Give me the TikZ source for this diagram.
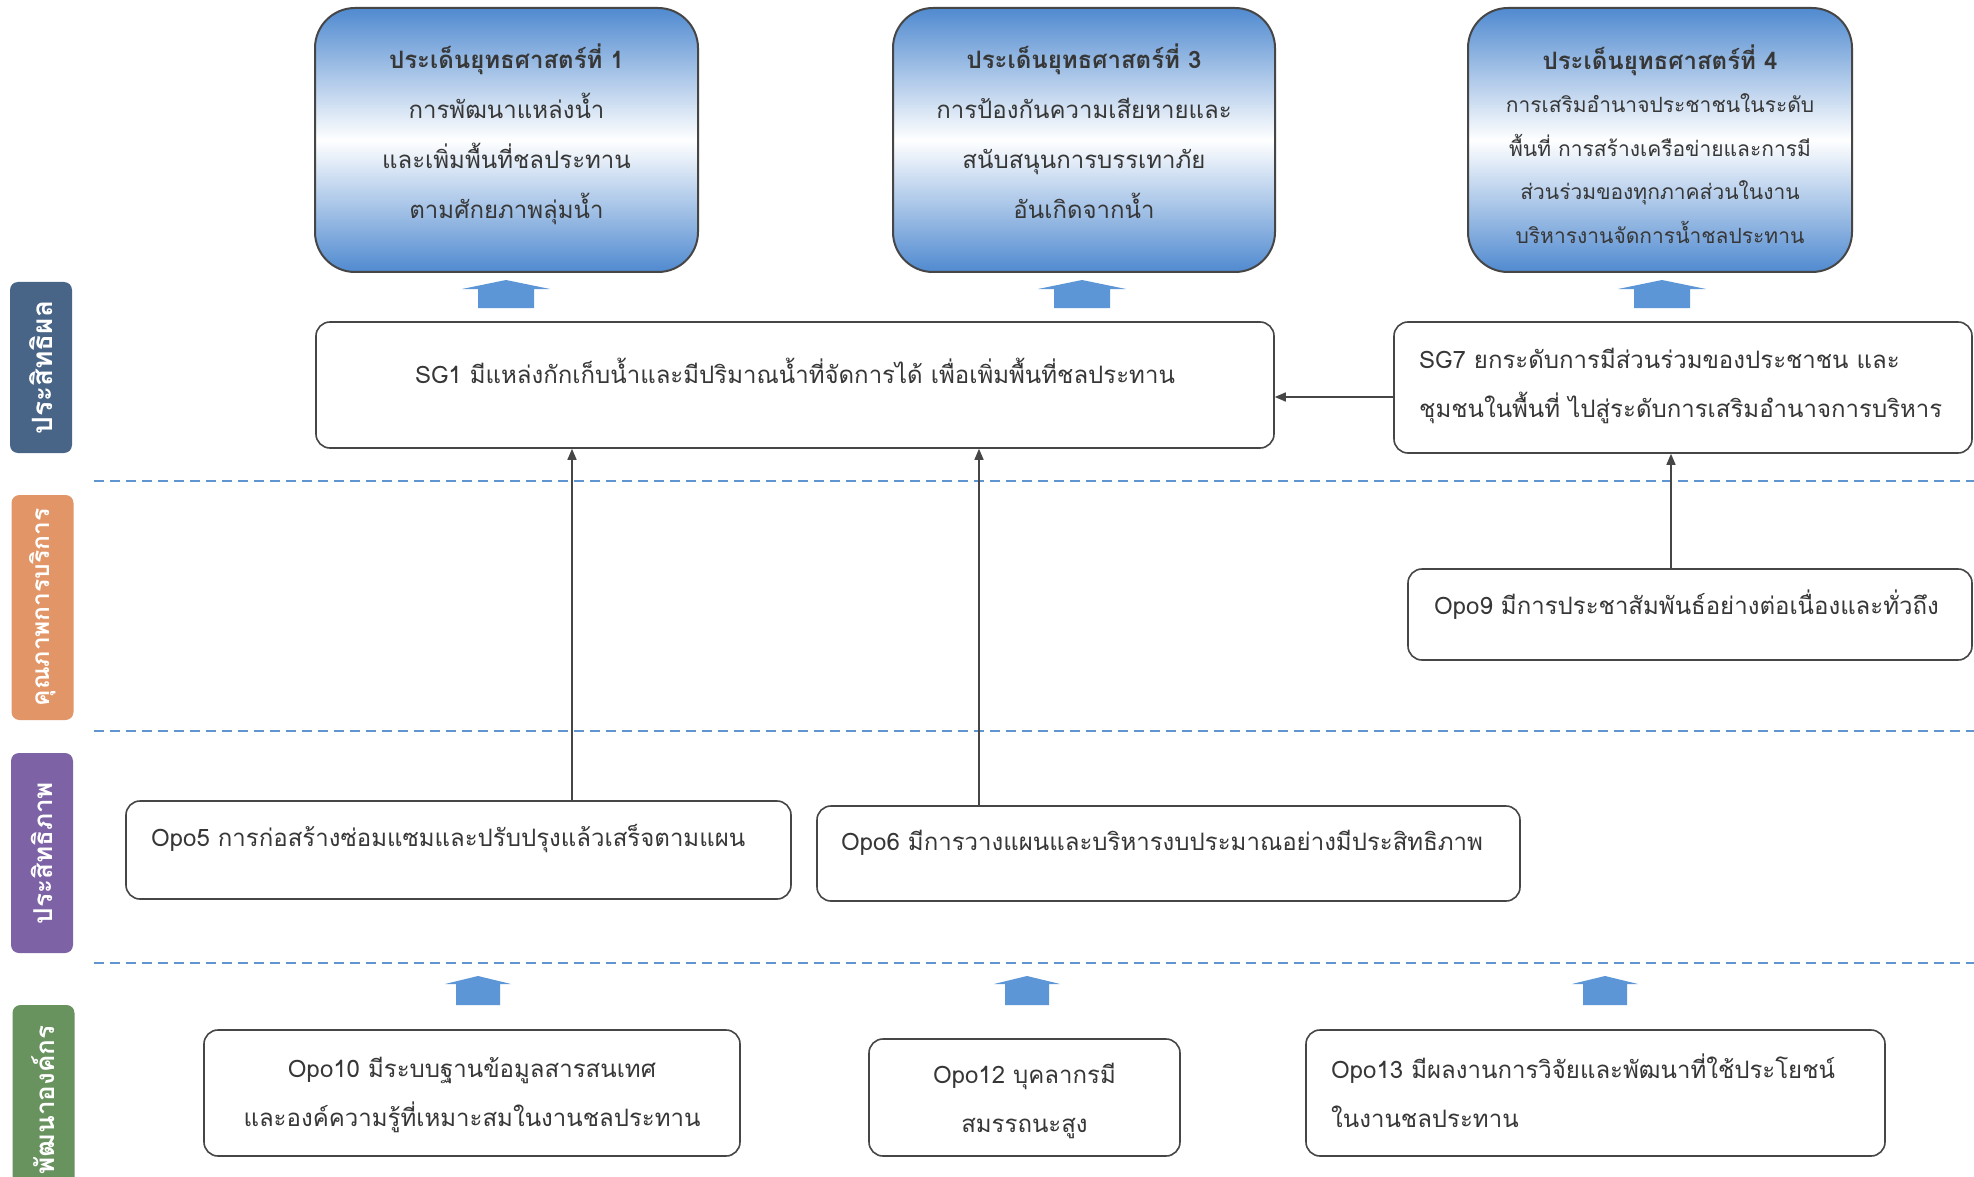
\documentclass[tikz,border=0pt]{standalone}
\usepackage{fontspec}
\setmainfont{Liberation Sans}
\newfontfamily\thai[Script=Thai]{Loma}
\usetikzlibrary{arrows.meta}
\definecolor{txt}{RGB}{55,55,55}
\definecolor{boxblue}{RGB}{80,138,208}
\definecolor{arrblue}{RGB}{92,150,215}
\definecolor{dashblue}{RGB}{95,150,210}
\definecolor{lblue}{RGB}{72,100,135}
\definecolor{lorange}{RGB}{226,150,104}
\definecolor{lpurple}{RGB}{125,98,165}
\definecolor{lgreen}{RGB}{104,146,94}
\definecolor{edge}{RGB}{70,70,70}
\tikzset{
  topbox/.style={draw=edge, line width=2pt, rounded corners=40pt,
    top color=boxblue, bottom color=boxblue, middle color=white, inner sep=0pt},
  whitebox/.style={draw=edge, line width=1.6pt, rounded corners=14pt, fill=white, inner sep=0pt},
  sidelabel/.style={rounded corners=8pt, inner sep=0pt, minimum height=62pt,
    text=white, font=\thai\bfseries\fontsize{26}{30}\selectfont, rotate=90},
  bodytext/.style={text=txt, font=\thai\fontsize{24}{49}\selectfont, inner sep=0pt},
  toptext/.style={text=txt, align=center, inner sep=0pt, font=\thai\fontsize{24}{50}\selectfont},
  toptextsmall/.style={text=txt, align=center, inner sep=0pt, font=\thai\fontsize{21}{43.5}\selectfont},
  conn/.style={draw=edge, line width=1.5pt, -{Triangle[length=11pt,width=9pt]}},
  sep/.style={draw=dashblue, line width=2.5pt, dash pattern=on 10pt off 6pt},
  blockarr/.style={fill=arrblue, draw=none},
}
\newcommand{\blockup}[6]{% x, apex y, base y, bottom y, head half, stem half
  \fill[blockarr] (#1,#2) -- (#1+#5,#3) -- (#1+#6,#3) -- (#1+#6,#4) -- (#1-#6,#4) -- (#1-#6,#3) -- (#1-#5,#3) -- cycle;}
\begin{document}
\begin{tikzpicture}[x=1pt,y=-1pt]
\useasboundingbox (0,0) rectangle (1974,1177);
\fill[white] (0,0) rectangle (1974,1177);

% side labels
\node[sidelabel, fill=lblue, minimum width=171pt, font=\thai\bfseries\fontsize{28}{30}\selectfont] (l1) at (41,367.5) {ประสิทธิผล};
\node[sidelabel, fill=lorange, minimum width=225pt, font=\thai\bfseries\fontsize{24.5}{30}\selectfont] (l2) at (42.5,607.5) {คุณภาพการบริการ};
\node[sidelabel, fill=lpurple, minimum width=200pt] (l3) at (42,853) {ประสิทธิภาพ};
\node[sidelabel, fill=lgreen, minimum width=190pt] (l4) at (43.5,1100) {พัฒนาองค์กร};

% dashed separators
\coordinate (d1a) at (94,481); \coordinate (d1b) at (1974,481);
\coordinate (d2a) at (94,731); \coordinate (d2b) at (1974,731);
\coordinate (d3a) at (94,963); \coordinate (d3b) at (1974,963);
\draw[sep] (d1a) -- (d1b);
\draw[sep] (d2a) -- (d2b);
\draw[sep] (d3a) -- (d3b);

% top strategic boxes
\node[topbox, minimum width=383pt, minimum height=264pt] (t1) at (506.5,140) {};
\node[toptext] (t1t) at (506.5,134) {{\bfseries ประเด็นยุทธศาสตร์ที่ 1}\\
  การพัฒนาแหล่งน้ำ\\ และเพิ่มพื้นที่ชลประทาน\\ ตามศักยภาพลุ่มน้ำ};
\node[topbox, minimum width=382pt, minimum height=264pt] (t3) at (1084,140) {};
\node[toptext] (t3t) at (1084,131) {{\bfseries ประเด็นยุทธศาสตร์ที่ 3}\\
  การป้องกันความเสียหายและ\\ สนับสนุนการบรรเทาภัย\\ อันเกิดจากน้ำ};
\node[topbox, minimum width=384pt, minimum height=264pt] (t4) at (1660,140) {};
\node[toptextsmall] (t4t) at (1660,144) {{\bfseries\fontsize{24}{43.5}\selectfont ประเด็นยุทธศาสตร์ที่ 4}\\
  การเสริมอำนาจประชาชนในระดับ\\ พื้นที่ การสร้างเครือข่ายและการมี\\
  ส่วนร่วมของทุกภาคส่วนในงาน\\ บริหารงานจัดการน้ำชลประทาน};

% block arrows to top boxes
\blockup{506}{280}{289}{308}{44}{28}
\blockup{1082}{280}{289}{308}{44}{28}
\blockup{1662}{280}{289}{308}{44}{28}

% SG boxes
\node[whitebox, minimum width=958pt, minimum height=126pt] (sg1) at (795,385) {};
\node[bodytext, anchor=center] (sg1t) at (795,371) {SG1 มีแหล่งกักเก็บน้ำและมีปริมาณน้ำที่จัดการได้ เพื่อเพิ่มพื้นที่ชลประทาน};
\node[whitebox, minimum width=578pt, minimum height=131pt] (sg7) at (1683,387.5) {};
\node[bodytext, align=left, anchor=west] (sg7t) at (1419,386) {SG7 ยกระดับการมีส่วนร่วมของประชาชน และ\\ ชุมชนในพื้นที่ ไปสู่ระดับการเสริมอำนาจการบริหาร};

% Opo9
\node[whitebox, minimum width=564pt, minimum height=91pt] (o9) at (1690,614.5) {};
\node[bodytext, anchor=west] (o9t) at (1434,605) {Opo9 มีการประชาสัมพันธ์อย่างต่อเนื่องและทั่วถึง};

% Opo5, Opo6
\node[whitebox, minimum width=665pt, minimum height=98pt] (o5) at (458.5,850) {};
\node[bodytext, anchor=west] (o5t) at (151,839) {Opo5 การก่อสร้างซ่อมแซมและปรับปรุงแล้วเสร็จตามแผน};
\node[whitebox, minimum width=703pt, minimum height=95pt] (o6) at (1168.5,853.5) {};
\node[bodytext, anchor=west] (o6t) at (841,843) {Opo6 มีการวางแผนและบริหารงบประมาณอย่างมีประสิทธิภาพ};

% bottom boxes
\node[whitebox, minimum width=536pt, minimum height=126pt] (o10) at (472,1093) {};
\node[bodytext, align=center] (o10t) at (472,1095) {Opo10 มีระบบฐานข้อมูลสารสนเทศ\\ และองค์ความรู้ที่เหมาะสมในงานชลประทาน};
\node[whitebox, minimum width=311pt, minimum height=117pt] (o12) at (1024.5,1097.5) {};
\node[bodytext, align=center] (o12t) at (1024.5,1101) {Opo12 บุคลากรมี\\ สมรรถนะสูง};
\node[whitebox, minimum width=579pt, minimum height=126pt] (o13) at (1595.5,1093) {};
\node[bodytext, align=left, anchor=west] (o13t) at (1331,1091) {Opo13 มีผลงานการวิจัยและพัฒนาที่ใช้ประโยชน์\\ ในงานชลประทาน};

% block arrows bottom
\blockup{478}{976}{984}{1005}{33}{22}
\blockup{1027}{976}{984}{1005}{33}{22}
\blockup{1605}{976}{984}{1005}{33}{22}

% connectors
\draw[conn] (sg7.west |- 0,397) -- (sg1.east |- 0,397);
\draw[conn] (o9.north -| 1671,0) -- (sg7.south -| 1671,0);
\draw[conn] (o5.north -| 572,0) -- (sg1.south -| 572,0);
\draw[conn] (o6.north -| 979,0) -- (sg1.south -| 979,0);
\end{tikzpicture}
\end{document}
